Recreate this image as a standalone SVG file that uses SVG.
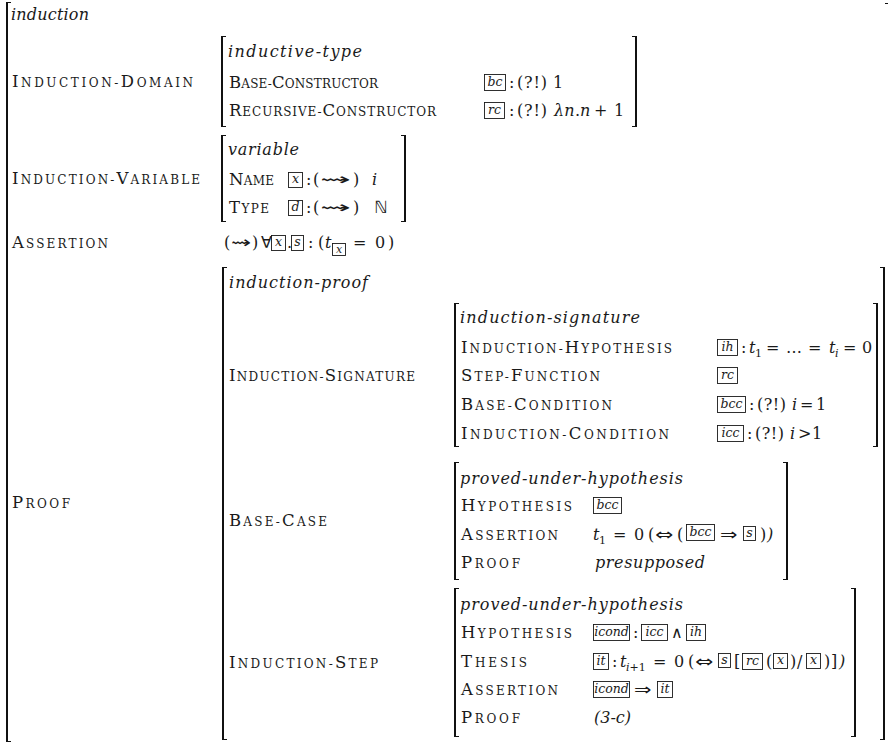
<svg xmlns="http://www.w3.org/2000/svg" width="888" height="745" viewBox="0 0 888 745">
<style>
text{font-family:"DejaVu Serif","DejaVu Sans",serif;fill:#1a1a1a;font-size:16px}
.sc{font-size:12px}
.C{font-size:16.5px}
.it{font-style:italic}
.bt{font-style:italic;font-size:12.5px;text-anchor:middle}
.st{font-size:11px}
.sy{font-family:"DejaVu Sans",sans-serif}
.bx{fill:none;stroke:#1a1a1a;stroke-width:0.9}
.bv{fill:none;stroke:#111;stroke-width:2}
.tk{fill:none;stroke:#111;stroke-width:1}
</style>
<rect width="888" height="745" fill="#fff"/>

<g id="brackets">
  <path class="bv" d="M7,2V742"/><path class="tk" d="M11,2.5H7M11,741.5H7"/>
  <path class="tk" d="M885,3.5H889"/>
  <path class="bv" d="M222,36V127"/><path class="tk" d="M226,36.5H222M226,126.5H222"/>
  <path class="bv" d="M636,36V127"/><path class="tk" d="M632,36.5H636M632,126.5H636"/>
  <path class="bv" d="M222,135V222"/><path class="tk" d="M226,135.5H222M226,221.5H222"/>
  <path class="bv" d="M405,135V222"/><path class="tk" d="M401,135.5H405M401,221.5H405"/>
  <path class="bv" d="M223,267V740"/><path class="tk" d="M227,267.5H223M227,739.5H223"/>
  <path class="bv" d="M884,267V740"/><path class="tk" d="M880,267.5H884M880,739.5H884"/>
  <path class="bv" d="M455,303V447"/><path class="tk" d="M459,303.5H455M459,446.5H455"/>
  <path class="bv" d="M877,303V447"/><path class="tk" d="M873,303.5H877M873,446.5H877"/>
  <path class="bv" d="M455,462V580"/><path class="tk" d="M459,462.5H455M459,579.5H455"/>
  <path class="bv" d="M787,462V580"/><path class="tk" d="M783,462.5H787M783,579.5H787"/>
  <path class="bv" d="M455,588V737"/><path class="tk" d="M459,588.5H455M459,736.5H455"/>
  <path class="bv" d="M855,588V737"/><path class="tk" d="M851,588.5H855M851,736.5H855"/>
</g>

<g id="induction">
  <text class="it" x="11" y="20" textLength="78">induction</text>
  <text class="sc" x="12" y="87" textLength="181"><tspan class="C">I</tspan>NDUCTION-<tspan class="C">D</tspan>OMAIN</text>
  <text class="sc" x="12" y="184" textLength="188"><tspan class="C">I</tspan>NDUCTION-<tspan class="C">V</tspan>ARIABLE</text>
  <text class="sc" x="12" y="248" textLength="96"><tspan class="C">A</tspan>SSERTION</text>
  <text class="sc" x="12" y="508" textLength="58"><tspan class="C">P</tspan>ROOF</text>
</g>

<g id="inductive-type">
  <text class="it" x="228" y="57" textLength="134">inductive-type</text>
  <text class="sc" x="229" y="88" textLength="149"><tspan class="C">B</tspan>ASE-<tspan class="C">C</tspan>ONSTRUCTOR</text>
  <text class="sc" x="229" y="116" textLength="207"><tspan class="C">R</tspan>ECURSIVE-<tspan class="C">C</tspan>ONSTRUCTOR</text>
  <rect class="bx" x="484.5" y="74.5" width="21" height="16"/>
  <text class="bt" x="495" y="86">bc</text>
  <text y="88"><tspan x="509">:</tspan><tspan x="517" textLength="30">(?!)</tspan><tspan x="553">1</tspan></text>
  <rect class="bx" x="484.5" y="102.5" width="20" height="16"/>
  <text class="bt" x="494.5" y="114">rc</text>
  <text y="116"><tspan x="509">:</tspan><tspan x="517" textLength="30">(?!)</tspan><tspan class="it" x="554">λn</tspan><tspan x="575">.</tspan><tspan class="it" x="580">n</tspan><tspan x="594">+</tspan><tspan x="614">1</tspan></text>
</g>

<g id="variable">
  <text class="it" x="228" y="155" textLength="71">variable</text>
  <text class="sc" x="229" y="185" textLength="45"><tspan class="C">N</tspan>AME</text>
  <text class="sc" x="229" y="213" textLength="40"><tspan class="C">T</tspan>YPE</text>
  <rect class="bx" x="288.5" y="172.5" width="14" height="15"/>
  <text class="bt" x="295.5" y="183">x</text>
  <text y="185"><tspan x="306">:</tspan><tspan x="313">(</tspan></text>
  <text class="sy" transform="translate(320,185) scale(2.3,1)">⇝</text>
  <text y="185"><tspan x="353">)</tspan><tspan class="it" x="372">i</tspan></text>
  <rect class="bx" x="288.5" y="200.5" width="14" height="15"/>
  <text class="bt" x="295.5" y="211">d</text>
  <text y="213"><tspan x="306">:</tspan><tspan x="313">(</tspan></text>
  <text class="sy" transform="translate(320,213) scale(2.3,1)">⇝</text>
  <text y="213"><tspan x="353">)</tspan><tspan class="sy" x="374" style="font-size:17px">ℕ</tspan></text>
</g>

<g id="assertion">
  <text x="224" y="248">(</text>
  <text class="sy" transform="translate(231,248) scale(1.5,1)">⇝</text>
  <text y="248"><tspan x="252">)</tspan><tspan class="sy" x="261">∀</tspan></text>
  <rect class="bx" x="271.5" y="235.5" width="14" height="15"/>
  <text class="bt" x="278.5" y="246">x</text>
  <text x="287" y="248">.</text>
  <rect class="bx" x="291.5" y="235.5" width="12" height="15"/>
  <text class="bt" x="297.5" y="246">s</text>
  <text y="248"><tspan x="308">:</tspan><tspan x="318">(</tspan><tspan class="it" x="325">t</tspan></text>
  <rect class="bx" x="332.5" y="243.5" width="13" height="12"/>
  <text class="bt" x="339" y="253" style="font-size:11px">x</text>
  <text y="248"><tspan x="353">=</tspan><tspan x="375">0</tspan><tspan x="388">)</tspan></text>
</g>

<g id="induction-proof">
  <text class="it" x="229" y="288" textLength="139">induction-proof</text>
  <text class="sc" x="229" y="381" textLength="186"><tspan class="C">I</tspan>NDUCTION-<tspan class="C">S</tspan>IGNATURE</text>
  <text class="sc" x="229" y="526" textLength="98"><tspan class="C">B</tspan>ASE-<tspan class="C">C</tspan>ASE</text>
  <text class="sc" x="229" y="668" textLength="149"><tspan class="C">I</tspan>NDUCTION-<tspan class="C">S</tspan>TEP</text>
</g>

<g id="induction-signature">
  <text class="it" x="460" y="323" textLength="180">induction-signature</text>
  <text class="sc" x="461" y="353" textLength="211"><tspan class="C">I</tspan>NDUCTION-<tspan class="C">H</tspan>YPOTHESIS</text>
  <text class="sc" x="461" y="381" textLength="139"><tspan class="C">S</tspan>TEP-<tspan class="C">F</tspan>UNCTION</text>
  <text class="sc" x="461" y="410" textLength="151"><tspan class="C">B</tspan>ASE-<tspan class="C">C</tspan>ONDITION</text>
  <text class="sc" x="461" y="439" textLength="208"><tspan class="C">I</tspan>NDUCTION-<tspan class="C">C</tspan>ONDITION</text>
  <rect class="bx" x="717.5" y="339.5" width="20" height="16"/>
  <text class="bt" x="727.5" y="351">ih</text>
  <text y="353"><tspan x="741">:</tspan><tspan class="it" x="749">t</tspan><tspan class="st" x="755" dy="4">1</tspan><tspan x="766" dy="-4">=</tspan><tspan x="786">…</tspan><tspan x="808">=</tspan><tspan class="it" x="829">t</tspan><tspan class="st it" x="835" dy="4">i</tspan><tspan x="843" dy="-4">=</tspan><tspan x="862">0</tspan></text>
  <rect class="bx" x="717.5" y="367.5" width="20" height="16"/>
  <text class="bt" x="727.5" y="379">rc</text>
  <rect class="bx" x="717.5" y="396.5" width="28" height="16"/>
  <text class="bt" x="731.5" y="408">bcc</text>
  <text y="410"><tspan x="749">:</tspan><tspan x="757" textLength="29">(?!)</tspan><tspan class="it" x="792">i</tspan><tspan x="800">=</tspan><tspan x="816">1</tspan></text>
  <rect class="bx" x="717.5" y="425.5" width="26" height="16"/>
  <text class="bt" x="730.5" y="437">icc</text>
  <text y="439"><tspan x="747">:</tspan><tspan x="755" textLength="29">(?!)</tspan><tspan class="it" x="790">i</tspan><tspan x="798">&gt;</tspan><tspan x="812">1</tspan></text>
</g>

<g id="base-case">
  <text class="it" x="460" y="484" textLength="223">proved-under-hypothesis</text>
  <text class="sc" x="461" y="511" textLength="111"><tspan class="C">H</tspan>YPOTHESIS</text>
  <text class="sc" x="461" y="540" textLength="97"><tspan class="C">A</tspan>SSERTION</text>
  <text class="sc" x="461" y="568" textLength="59"><tspan class="C">P</tspan>ROOF</text>
  <rect class="bx" x="593.5" y="497.5" width="28" height="16"/>
  <text class="bt" x="607.5" y="509">bcc</text>
  <text y="540"><tspan class="it" x="593">t</tspan><tspan class="st" x="599" dy="4">1</tspan><tspan x="613" dy="-4">=</tspan><tspan x="634">0</tspan><tspan x="648">(</tspan></text>
  <text class="sy" transform="translate(655,540) scale(1.35,1)">⇔</text>
  <text x="677" y="540">(</text>
  <rect class="bx" x="686.5" y="524.5" width="28" height="16"/>
  <text class="bt" x="700.5" y="536">bcc</text>
  <text class="sy" transform="translate(720,540) scale(1.3,1)">⇒</text>
  <rect class="bx" x="743.5" y="526.5" width="12" height="14"/>
  <text class="bt" x="749.5" y="537">s</text>
  <text y="540"><tspan x="760">)</tspan><tspan class="it" x="767">)</tspan></text>
  <text class="it" x="595" y="568" textLength="110">presupposed</text>
</g>

<g id="induction-step">
  <text class="it" x="460" y="610" textLength="223">proved-under-hypothesis</text>
  <text class="sc" x="461" y="638" textLength="111"><tspan class="C">H</tspan>YPOTHESIS</text>
  <text class="sc" x="461" y="667" textLength="66"><tspan class="C">T</tspan>HESIS</text>
  <text class="sc" x="461" y="695" textLength="97"><tspan class="C">A</tspan>SSERTION</text>
  <text class="sc" x="461" y="723" textLength="59"><tspan class="C">P</tspan>ROOF</text>
  <rect class="bx" x="593.5" y="624.5" width="36" height="16"/>
  <text class="bt" x="611.5" y="636">icond</text>
  <text x="633" y="638">:</text>
  <rect class="bx" x="641.5" y="624.5" width="26" height="16"/>
  <text class="bt" x="654.5" y="636">icc</text>
  <text class="sy" x="671" y="638">∧</text>
  <rect class="bx" x="686.5" y="624.5" width="19" height="16"/>
  <text class="bt" x="696" y="636">ih</text>

  <rect class="bx" x="593.5" y="653.5" width="15" height="16"/>
  <text class="bt" x="601" y="665">it</text>
  <text y="667"><tspan x="612">:</tspan><tspan class="it" x="620">t</tspan><tspan class="st" x="626" dy="4"><tspan class="it">i</tspan>+1</tspan><tspan x="653" dy="-4">=</tspan><tspan x="674">0</tspan><tspan x="688">(</tspan></text>
  <text class="sy" transform="translate(695,667) scale(1.35,1)">⇔</text>
  <rect class="bx" x="718.5" y="653.5" width="12" height="14"/>
  <text class="bt" x="724.5" y="664">s</text>
  <text x="734" y="667">[</text>
  <rect class="bx" x="742.5" y="653.5" width="20" height="16"/>
  <text class="bt" x="752.5" y="665">rc</text>
  <text x="766" y="667">(</text>
  <rect class="bx" x="773.5" y="653.5" width="14" height="15"/>
  <text class="bt" x="780.5" y="664">x</text>
  <text y="667"><tspan x="790">)</tspan><tspan x="797">/</tspan></text>
  <rect class="bx" x="806.5" y="653.5" width="14" height="15"/>
  <text class="bt" x="813.5" y="664">x</text>
  <text y="667"><tspan x="824">)</tspan><tspan x="831">]</tspan><tspan class="it" x="839">)</tspan></text>

  <rect class="bx" x="593.5" y="681.5" width="36" height="16"/>
  <text class="bt" x="611.5" y="693">icond</text>
  <text class="sy" transform="translate(634,695) scale(1.3,1)">⇒</text>
  <rect class="bx" x="657.5" y="681.5" width="15" height="16"/>
  <text class="bt" x="665" y="693">it</text>
  <text class="it" x="594" y="723">(3-c)</text>
</g>
</svg>
